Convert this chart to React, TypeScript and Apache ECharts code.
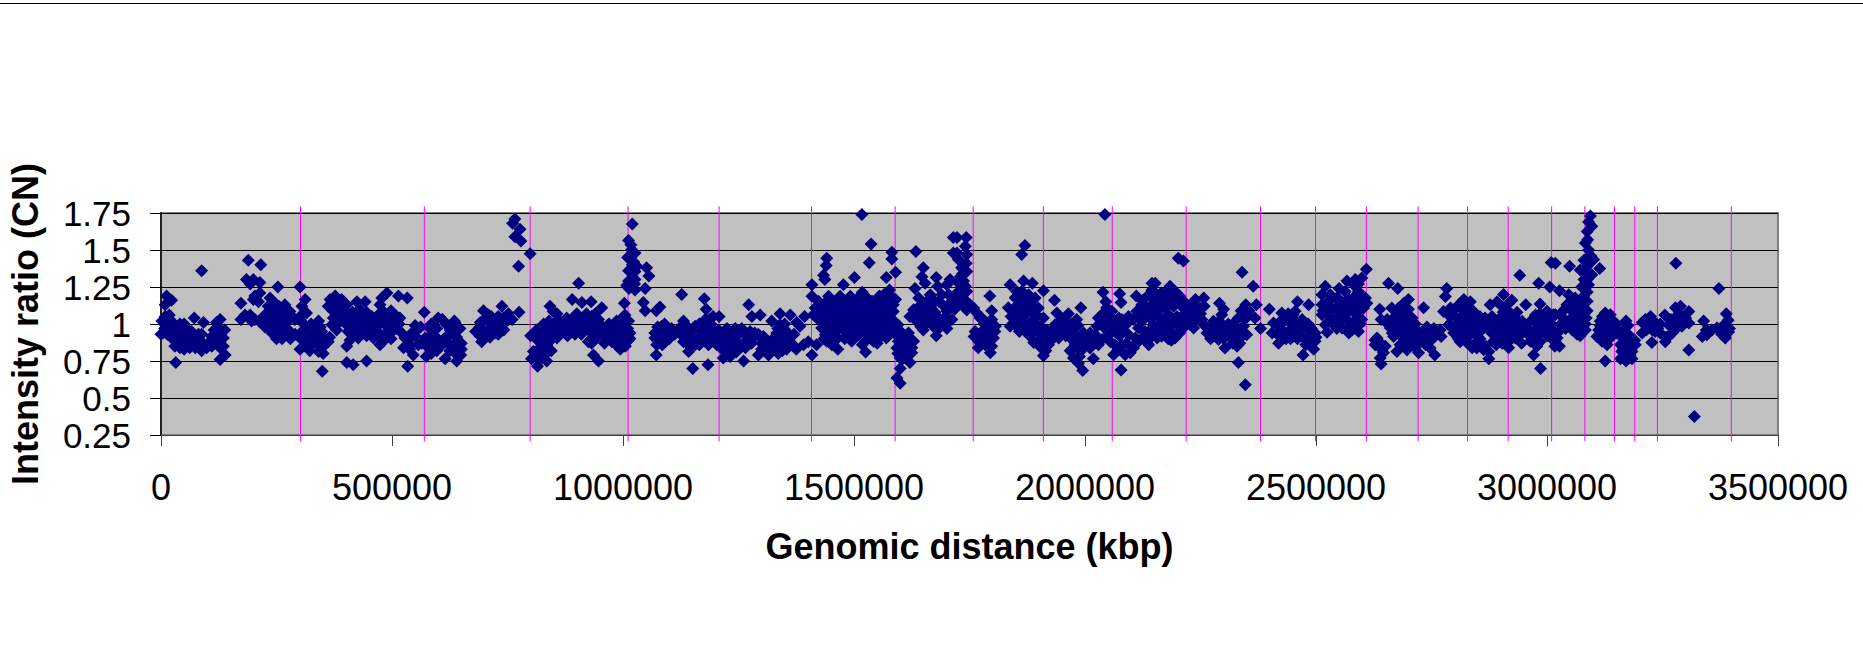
import React, { useEffect, useRef } from "react";
import * as echarts from "echarts";

const xTickStep = 500000;
const yTickStep = 0.25;
const xAxisTitle = "Genomic distance (kbp)";
const yAxisTitle = "Intensity ratio (CN)";

// Positions of the vertical markers, kbp in thousands
const boundaries = [302, 570, 799, 1011, 1208, 1408, 1589, 1758, 1910, 2059, 2219, 2380, 2499, 2609, 2721, 2828, 2916, 3010, 3082, 3146, 3190, 3239, 3399];

// Points as [genomic distance in thousands of kbp, intensity ratio]
const pointsA: number[][] = [
  [32,.74],[88,1.36],[189,1.43],[216,1.40],[253,1.25],[301,1.25],[349,.68],[12,1.19],[23,1.16],[9,1.13],[9,1.05],[2,1.02],[19,1.03],[0,.93],[5,.94],[16,.97],[30,.995],[41,1.0],[56,.97],[30,.93],[45,.94],[59,.92],[41,.84],[72,1.04],[92,1.01],[81,.93],[74,.84],[99,.84],[120,1.01],[138,.96],[135,.905],[9,.995],[23,.905],[41,.895],[66,.905],[70,.87],[88,.88],[106,.88],[117,.88],[120,.93],[128,.76],[139,.79],[135,.85],[128,1.03],[128,.84],[110,.915],[56,.94],[30,.85],[41,.95],
  [173,1.14],[173,1.03],[182,1.06],[196,1.02],[193,1.06],[203,1.03],[185,1.30],[193,1.27],[200,1.30],[214,1.28],[203,1.19],[214,1.21],[211,1.15],[200,1.165],[236,1.175],[247,1.14],[268,1.13],[279,1.085],[232,1.12],[236,1.07],[225,1.02],[232,.985],[247,1.03],[258,1.05],[265,1.02],[254,.96],[250,.90],[276,.96],[279,.94],[290,1.03],[312,1.165],[305,1.12],[315,1.075],[301,1.05],[308,1.005],[301,.83],[319,.905],[326,.86],[341,.815],[351,.80],[330,.97],[341,1.02],[348,.95],[362,.88],[355,.86],[380,.96],[370,.995],[373,1.04],[366,1.165],[362,1.12],[377,1.19],[391,1.165],[402,1.13],[370,1.095],[384,1.085],[409,1.06],[413,1.02],[402,.85],[409,.89],[402,.74],[416,.725],[305,.95],[315,.86],[301,.905],[333,.905],[348,.88],
];
const denseA: number[][] = [
  [8,.97],[24,.97],[36,.92],[50,.92],[25,1.0],[50,1.0],[18,1.06],[14,.93],[60,.86],[52,.86],[66,.95],[88,.93],[72,.90],[115,.96],[125,.97],[128,.93],[110,.85],[88,.82],[62,.84],[50,.83],
  [240,1.10],[255,1.12],[270,1.10],[225,1.06],[248,1.08],[262,1.09],[280,1.06],[212,1.02],[238,1.02],[255,1.02],[275,1.02],[225,.98],[245,.98],[265,.98],[240,.94],[258,.94],[270,.94],[290,.93],[262,.90],[280,.90],
  [312,.99],[325,1.0],[335,.94],[320,.94],[345,.98],[345,.92],[365,.91],[330,.88],[340,.86],[312,.88],[322,.82],[355,.90],[385,1.12],[395,1.10],[380,1.05],[395,1.05],[400,1.08],[385,1.01],[400,1.0],[415,1.08],[380,1.14],[415,.97],[405,.95],[415,.92],
];
const pointsB: number[][] = [
  [424,1.15],[442,1.15],[445,.75],[489,1.21],[478,1.175],[474,1.13],[514,1.19],[533,1.175],[498,1.09],[517,1.04],[456,1.05],[427,1.06],[438,1.02],[427,.905],[449,.97],[460,.905],[474,.86],[498,.90],[485,.93],[499,1.02],[489,1.06],[481,1.085],[471,.995],[460,.985],[510,.97],[521,.94],[528,.905],[525,.84],[539,.86],[546,.79],[534,.715],[553,.96],[543,.915],[570,1.08],[574,.78],[557,.86],[582,.97],[572,.905],[586,.93],[579,.84],[593,.86],[600,1.04],[609,1.03],[597,.905],[608,.86],[615,.765],[636,1.01],[647,.97],[626,.96],[618,.915],[633,.93],[640,.88],[626,.86],[640,.84],[649,.79],[640,.75],[633,.815],[424,1.03],[424,.96],[438,.94],
  [698,1.09],[709,1.06],[691,1.01],[681,.95],[694,.88],[705,.93],[698,.96],[716,.985],[727,1.02],[738,1.12],[730,1.05],[741,1.04],[752,1.07],[775,1.08],[730,.93],[720,.95],[748,1.02],[712,1.01],
  [766,1.71],[761,1.68],[777,1.64],[766,1.59],[779,1.56],[799,1.475],[774,1.39],[800,.92],[813,.96],[828,1.0],[842,1.12],[849,1.085],[849,.995],[806,.815],[802,.765],[815,.715],[835,.75],[824,.815],[835,.86],[828,.905],[813,.77],[831,.79],
];
const denseB: number[][] = [
  [430,1.1],[430,1.0],[445,1.08],[445,1.0],[460,1.02],[470,1.06],[430,.95],[445,.92],[480,1.02],[495,1.05],[505,1.0],[490,.98],[475,.93],[510,1.05],[462,.94],[480,.88],[500,.95],[515,1.0],
  [535,.89],[550,.92],[540,.93],[550,.99],[562,.98],[565,.87],[575,.87],[590,.89],[600,.88],[610,.89],[585,1.0],[597,.97],[620,.99],[630,.99],[640,.97],[625,.93],[615,.88],[650,.87],[640,.91],[650,.83],[625,.82],[597,.82],[585,.80],[538,.83],[635,1.02],
  [690,.98],[700,1.03],[700,.92],[712,.96],[725,.98],[735,1.0],[715,1.05],[712,.91],[740,1.0],[752,1.03],[760,1.03],[725,.94],[742,.96],[720,1.02],[690,.92],
  [815,.89],[825,.94],[840,.88],[840,.93],[820,.84],[845,.82],[812,.80],[825,.77],[845,.96],[840,1.02],[835,.97],
];
const pointsC: number[][] = [
  [904,1.275],[890,1.165],[911,1.145],[931,1.15],[857,1.07],[954,1.11],[921,1.07],[860,1.03],[878,1.04],[900,1.07],[896,.995],[867,.95],[857,.905],[882,.94],[896,.93],[914,1.02],[925,.96],[932,1.05],[947,1.03],[932,.87],[936,.79],[947,.75],[943,.905],[961,.905],[958,.97],[972,.94],[986,1.02],[983,.94],[997,.86],[994,.83],[1005,.915],[1015,.94],[1001,.995],[1004,1.06],[1003,1.14],[1008,.88],[976,.88],[968,.995],[878,.985],[940,.97],[990,.895],
  [1020,1.675],[1012,1.565],[1017,1.535],[1010,1.45],[1026,1.48],[1023,1.42],[1026,1.355],[1012,1.29],[1026,1.30],[1013,1.24],[1026,1.23],[1048,1.24],[1051,1.38],[1056,1.325],[1044,1.145],[1048,1.09],[1072,1.09],[1080,1.115],[1020,1.40],[1018,1.27],
  [1069,.94],[1073,.86],[1072,.79],[1084,.985],[1098,.94],[1091,.88],[1069,.905],[1131,1.02],[1127,1.20],[1176,1.17],[1180,1.10],[1187,1.03],[1208,1.05],[1151,.70],[1184,.725],[1142,.815],[1120,.95],[1138,.93],[1131,.88],[1149,.95],[1156,.985],[1163,.905],[1156,.86],[1178,.93],[1192,.97],[1185,.86],[1207,.96],[1221,.815],[1217,.77],[1232,.78],[1261,.75],[1214,.905],[1228,.93],[1243,.97],[1257,.97],[1272,.905],[1282,.905],[1254,.84],[1239,.84],[1272,1.13],[1279,1.05],[1084,.915],[1171,.95],[1142,.88],[1196,.905],[1203,.86],[1246,.88],[1264,.88],[1228,.85],
];
const denseC: number[][] = [
  [888,1.03],[905,1.03],[920,1.04],[940,1.07],[935,1.02],[950,1.0],[905,.98],[920,.98],[870,1.0],[855,.99],[885,.98],[860,.95],[880,.92],[910,.93],[935,.95],[950,.95],[980,.98],[995,.96],[1010,.97],[1012,1.02],[995,1.03],[970,1.0],[915,.96],[945,.92],[960,.94],[975,.91],[1000,.88],[985,.86],[1015,.90],[1005,.85],[932,.90],[925,.88],[960,.87],[975,.96],
  [1018,1.50],[1017,1.36],[1030,1.39],[1025,1.27],[1008,1.26],[1012,1.36],
  [1075,.98],[1090,1.0],[1085,.95],[1075,.89],[1085,.86],[1100,.90],[1112,.93],[1105,.97],[1125,.98],[1140,.98],[1128,.92],[1150,.90],[1145,.85],[1165,.97],[1178,.97],[1165,.86],[1185,.90],[1175,.89],[1200,.94],[1205,.88],[1215,.94],[1218,.87],[1225,.97],[1235,.90],[1250,.93],[1240,.95],[1265,.93],[1275,.95],[1285,.94],[1250,.85],[1265,.84],[1245,.81],[1235,.80],[1278,.87],[1215,.83],[1190,1.0],[1195,1.05],[1165,1.0],[1178,1.03],
];
const pointsD: number[][] = [
  [1297,1.06],[1340,1.07],[1362,1.06],[1322,1.02],[1393,1.05],[1376,1.01],[1293,.93],[1293,.79],[1315,.79],[1336,.80],[1354,.83],[1365,.87],[1391,.86],[1401,.88],[1419,.86],[1409,.79],[1409,1.265],[1409,1.187],[1340,.995],[1333,.94],[1347,.915],[1329,.88],[1315,.84],[1344,.86],[1358,.88],[1304,.915],[1329,.84],[1351,.96],[1383,.985],
  [1517,1.74],[1537,1.54],[1533,1.414],[1441,1.445],[1440,1.395],[1434,1.33],[1437,1.30],[1477,1.265],[1501,1.315],[1582,1.485],[1582,1.44],[1570,1.315],[1590,1.35],[1518,1.215],[1577,1.23],[1634,1.49],[1650,1.38],[1647,1.32],[1678,1.315],[1632,1.24],[1654,1.275],[1681,1.255],[1708,1.30],[1715,1.585],[1715,1.48],[1701,1.265],
  [1445,1.187],[1470,1.187],[1492,1.187],[1423,1.153],[1441,1.153],[1459,1.153],[1477,1.153],[1499,1.153],[1513,1.153],[1539,1.153],[1557,1.153],[1575,1.153],[1416,1.108],[1434,1.108],[1452,1.108],[1466,1.108],[1484,1.108],[1502,1.108],[1521,1.108],[1539,1.108],[1557,1.108],[1575,1.108],[1590,1.165],[1412,1.063],[1430,1.063],[1448,1.063],[1466,1.063],[1484,1.063],[1502,1.063],[1521,1.063],[1539,1.063],[1557,1.063],[1575,1.063],[1427,1.018],[1445,1.018],[1463,1.018],[1481,1.018],[1499,1.018],[1517,1.018],[1535,1.018],[1553,1.018],[1571,1.018],[1585,1.018],[1430,.973],[1448,.973],[1466,.973],[1492,.973],[1510,.973],[1528,.973],[1546,.973],[1564,.973],[1589,.973],[1438,.928],[1456,.928],[1492,.928],[1510,.928],[1535,.928],[1557,.928],[1441,.883],[1495,.883],[1524,.883],[1542,.883],[1465,.83],[1525,.81],
  [1604,.94],[1596,.883],[1618,.94],[1629,.883],[1593,.838],[1611,.85],[1625,.805],[1600,.70],[1621,.74],[1604,.76],[1593,.635],[1600,.60],[1607,.895],
  [1632,1.06],[1650,.96],[1678,.92],[1701,.97],[1640,1.175],[1654,1.13],[1665,1.198],[1683,1.153],[1690,1.198],[1705,1.198],[1712,1.153],[1665,1.063],[1683,1.04],[1701,1.086],[1712,1.03],[1654,1.03],[1672,.985],[1690,1.007],[1629,1.097],[1643,1.086],[1640,1.018],[1621,1.05],
];
const denseD: number[][] = [
  [1310,.87],[1325,.90],[1340,.93],[1335,.97],[1350,1.0],[1358,.92],[1370,.93],[1300,.87],[1320,.82],[1345,.82],[1375,.83],[1300,.83],
  [1425,1.13],[1445,1.13],[1465,1.13],[1488,1.13],[1508,1.13],[1528,1.13],[1548,1.13],[1566,1.13],[1585,1.13],
  [1425,1.085],[1443,1.085],[1460,1.085],[1475,1.085],[1493,1.085],[1512,1.085],[1530,1.085],[1548,1.085],[1566,1.085],[1585,1.085],
  [1420,1.04],[1438,1.04],[1455,1.04],[1473,1.04],[1490,1.04],[1510,1.04],[1528,1.04],[1547,1.04],[1565,1.04],[1580,1.04],
  [1438,.995],[1455,.995],[1472,.995],[1490,.995],[1508,.995],[1526,.995],[1544,.995],[1562,.995],[1578,.995],[1595,.995],
  [1440,.95],[1458,.95],[1480,.95],[1500,.95],[1520,.95],[1545,.95],[1565,.95],[1580,.95],
  [1450,.905],[1465,.905],[1500,.905],[1535,.905],[1555,.905],[1570,.905],[1452,.86],[1435,.90],[1480,.90],[1518,.86],[1550,.87],
  [1510,1.18],[1530,1.17],[1555,1.19],[1565,1.2],[1580,1.19],
  [1593,.92],[1610,.92],[1600,.85],[1615,.88],[1622,.90],[1608,.80],[1595,.80],[1612,.77],[1625,.84],[1600,.77],
  [1645,1.13],[1660,1.16],[1650,1.08],[1665,1.11],[1675,1.15],[1695,1.12],[1705,1.12],[1675,1.08],[1655,1.0],[1665,1.02],[1680,1.0],[1695,1.04],[1705,1.02],[1645,.98],[1680,.96],[1700,1.0],[1635,1.02],[1718,1.1],
];
const pointsE: number[][] = [
  [1723,1.585],[1743,1.585],[1741,1.525],[1723,1.48],[1744,1.47],[1726,1.435],[1743,1.41],[1733,1.38],[1744,1.355],[1730,1.32],[1737,1.29],[1726,1.277],[1741,1.255],[1726,1.22],[1744,1.22],[1733,1.176],[1730,1.145],[1744,1.15],[1751,1.13],[1744,1.095],[1759,1.108],[1766,1.075],[1773,1.04],[1794,1.19],[1798,1.09],[1780,1.03],[1798,1.03],[1806,.985],[1762,.95],[1760,.915],[1777,.95],[1791,.973],[1802,.905],[1780,.895],[1769,.84],[1795,.805],[1798,.85],[1784,.86],[1791,.917],[1766,.905],
  [1838,1.265],[1867,1.29],[1886,1.275],[1852,1.22],[1834,1.11],[1838,.985],[1870,1.53],[1863,1.47],[1910,1.225],[1934,1.16],[1849,1.176],[1863,1.22],[1878,1.198],[1892,1.176],[1845,1.063],[1860,1.13],[1874,1.13],[1889,1.086],[1856,1.04],[1871,1.063],[1885,1.018],[1852,.985],[1871,.95],[1899,1.108],[1910,1.04],[1889,.973],[1917,.96],[1903,.928],[1889,.875],[1910,.785],[1921,.86],[1932,.905],[1928,.95],[1939,1.075],[1964,1.07],[1991,1.11],[1982,1.03],[1950,1.03],[1935,.995],[1950,.973],[1964,.94],[1943,.905],[1979,.973],[1997,.94],[2011,.94],[2022,.928],[1975,.77],[1986,.735],[1995,.685],[1990,.815],[1979,.86],[1997,.86],[2018,.765],[2011,.838],[2004,.905],[2029,.86],[2037,.895],[1982,.905],[1968,.905],[1871,1.086],
  [2039,1.215],[2043,1.74],[2075,1.205],[2078,1.145],[2078,.69],[2111,1.19],[2145,1.275],[2047,1.11],[2029,1.04],[2040,1.018],[2026,.985],[2058,.995],[2073,1.04],[2094,1.05],[2051,.928],[2065,.95],[2080,.96],[2094,.928],[2109,.905],[2065,.86],[2080,.86],[2098,.805],[2062,.793],[2087,.793],[2105,.838],[2116,.883],[2123,1.13],[2138,1.198],[2145,1.13],[2127,1.063],[2141,1.04],[2123,1.018],[2148,.995],[2112,1.086],[2130,.95],[2145,.917],[2138,.86],[2116,.973],[2040,1.075],[2058,1.086],[2080,1.03],
];
const denseE: number[][] = [
  [1735,1.34],[1735,1.25],[1725,1.19],[1738,1.12],[1782,1.0],[1775,.91],[1790,.88],[1770,.88],[1790,.95],[1805,.95],[1785,1.0],[1795,.98],
  [1845,1.10],[1855,1.13],[1868,1.18],[1880,1.16],[1885,1.12],[1860,1.09],[1848,1.02],[1865,1.01],[1880,.98],[1858,.95],[1880,.92],[1870,1.2],[1850,1.18],[1840,1.05],[1895,1.0],[1905,.98],[1895,1.06],[1900,.95],[1915,.9],[1920,.9],[1900,.89],[1925,.92],[1905,.84],[1915,.82],[1945,.96],[1960,1.0],[1935,.95],[1970,.95],[1958,.92],[1970,1.0],[1985,.99],[1975,.9],[1990,.9],[2010,.89],[2020,.90],[2005,.86],[1990,.84],[2025,.90],[1968,.82],[1988,.78],
  [2035,1.05],[2050,1.05],[2040,.98],[2045,1.15],[2060,1.03],[2070,1.0],[2090,1.0],[2088,1.02],[2105,1.03],[2120,1.05],[2135,1.08],[2145,1.08],[2130,1.12],[2125,1.16],[2148,1.17],[2145,1.23],[2155,1.2],[2058,.95],[2075,.92],[2055,.88],[2072,.83],[2090,.87],[2108,.86],[2122,.90],[2130,.9],[2145,.97],[2155,.96],
];
const pointsF: number[][] = [
  [2202,1.445],[2213,1.425],[2152,1.275],[2184,1.255],[2195,1.22],[2174,1.21],[2166,1.165],[2188,1.176],[2206,1.153],[2156,1.13],[2174,1.108],[2192,1.12],[2213,1.108],[2159,1.05],[2181,1.063],[2199,1.05],[2217,1.075],[2163,.985],[2184,.995],[2202,.985],[2156,.905],[2174,.928],[2195,.905],[2188,.94],[2239,1.165],[2257,1.176],[2235,1.12],[2249,1.108],[2224,1.05],[2224,1.007],[2235,.973],[2253,1.03],[2257,.995],[2242,1.063],[2166,.917],
  [2291,1.14],[2296,1.063],[2278,1.018],[2264,.94],[2282,.928],[2278,.973],[2296,.995],[2307,.96],[2289,.895],[2303,.838],[2314,.917],[2329,.85],[2325,.973],[2332,1.04],[2343,.985],[2350,.928],[2336,.905],[2332,.74],[2347,.59],[2340,1.35],[2364,1.255],[2348,1.13],[2343,1.085],[2371,1.13],[2368,1.04],[2380,.97],[2399,1.10],[2460,1.15],[2484,1.13],
  [2405,.94],[2408,1.007],[2426,1.075],[2437,1.04],[2423,1.018],[2455,1.086],[2419,.87],[2441,1.018],[2455,1.018],[2470,.995],[2430,.95],[2451,.94],[2470,.917],[2484,.96],[2498,.94],[2495,.83],[2472,.79],[2524,.945],[2484,.895],[2498,.883],[2462,.973],[2415,.94],
  [2520,1.255],[2567,1.29],[2550,1.24],[2513,1.198],[2513,1.13],[2531,1.198],[2545,1.176],[2563,1.22],[2581,1.266],[2524,1.13],[2542,1.108],[2560,1.13],[2578,1.153],[2513,1.063],[2527,1.063],[2545,1.04],[2563,1.063],[2581,1.086],[2520,.995],[2538,.995],[2556,.973],[2571,.94],[2581,1.007],[2578,.96],
];
const denseF: number[][] = [
  [2165,1.21],[2160,1.09],[2175,1.15],[2190,1.2],[2205,1.19],[2165,1.03],[2175,1.0],[2195,1.02],[2210,1.03],[2165,.95],[2180,.96],[2205,.94],[2215,.98],[2222,1.09],[2180,.9],[2187,.89],[2237,1.02],[2250,1.07],[2240,1.09],[2225,1.12],[2215,1.15],[2258,1.12],
  [2270,.97],[2285,1.0],[2295,.95],[2290,1.02],[2310,1.0],[2320,1.0],[2328,.94],[2340,.94],[2315,.95],[2300,.90],[2320,.87],[2272,.90],[2335,.87],[2345,1.03],[2338,1.09],[2355,1.09],[2352,1.05],[2300,1.1],
  [2420,.99],[2425,1.0],[2450,1.06],[2447,.97],[2455,.97],[2440,1.07],[2470,1.03],[2483,1.0],[2445,.90],[2460,.90],[2420,.92],[2435,.90],[2490,.97],[2478,.86],[2500,.91],
  [2530,1.16],[2515,1.09],[2530,1.09],[2552,1.08],[2552,1.16],[2570,1.17],[2570,1.1],[2588,1.13],[2588,1.2],[2530,1.02],[2552,1.02],[2570,1.02],[2590,1.05],[2545,.97],[2568,.97],[2590,.99],
];
const pointsG: number[][] = [
  [2609,1.37],[2599,1.31],[2585,1.30],[2592,1.22],[2607,1.176],[2589,1.153],[2603,1.108],[2589,1.063],[2599,1.03],[2592,.95],[2638,1.10],[2657,1.275],[2677,1.24],[2700,1.165],[2690,1.14],[2733,1.11],[2783,1.24],[2780,1.185],[2641,1.03],[2632,.905],[2628,.86],[2639,.838],[2646,.805],[2639,.77],[2641,.73],
  [2664,1.108],[2679,1.108],[2693,1.086],[2708,1.04],[2654,1.03],[2668,1.04],[2686,1.03],[2704,.995],[2661,.973],[2675,.96],[2693,.96],[2668,.915],[2690,.917],[2708,.94],[2722,.95],[2751,.95],[2737,.94],[2675,.815],[2697,.825],[2722,.805],[2757,.79],[2737,.86],[2747,.838],[2729,.883],[2708,.883],[2682,.86],[2751,.895],[2771,.915],[2776,1.085],[2769,.96],
  [2791,1.108],[2809,1.13],[2820,1.165],[2834,1.15],[2841,1.085],[2801,1.05],[2820,1.086],[2834,1.04],[2787,.995],[2805,.995],[2823,1.018],[2841,.995],[2798,.94],[2816,.94],[2834,.928],[2812,.88],[2838,.84],[2852,.883],[2863,.826],[2874,.765],[2848,.838],[2874,.815],
  [2906,1.20],[2892,1.15],[2877,1.13],[2924,1.16],[2941,1.33],[2954,1.13],[2982,1.275],[3006,1.25],[3009,1.415],[2985,1.135],[2975,1.06],[2986,.70],[2971,.79],[2978,.85],[2866,1.04],[2881,1.05],[2863,.973],[2881,.985],[2899,1.04],[2917,1.086],[2931,1.04],[2917,1.018],[2939,.985],[2895,.96],[2913,.94],[2931,.905],[2884,.883],[2903,.87],[2917,.84],[2946,1.018],[2957,.94],[2975,.96],[2964,.883],[2993,1.03],[3000,1.086],[3014,1.063],[2989,.973],[3004,.94],[3011,.995],[3000,.92],[3017,.85],[2852,.94],[2856,1.018],[2917,1.14],[2906,1.108],
];
const denseG: number[][] = [
  [2592,1.27],[2598,1.18],[2595,1.1],[2610,1.14],[2596,1.0],[2588,.98],[2640,.87],[2650,.85],[2628,.89],
  [2675,1.06],[2690,1.07],[2700,1.1],[2655,1.0],[2672,1.0],[2685,.99],[2700,1.03],[2715,1.0],[2680,.93],[2695,.93],[2705,.9],[2720,.9],[2740,.91],[2722,.87],[2760,.93],[2740,.98],[2755,.97],[2695,.87],[2712,.85],[2665,.94],
  [2800,1.1],[2815,1.12],[2830,1.11],[2815,1.05],[2830,1.07],[2845,1.05],[2790,1.05],[2795,.98],[2815,1.0],[2830,.98],[2850,.97],[2805,.94],[2825,.93],[2845,.94],[2855,.9],[2825,.88],[2860,.86],[2845,.87],[2868,.85],[2855,1.05],[2808,.9],
  [2870,1.0],[2890,1.02],[2905,1.08],[2915,1.06],[2935,1.08],[2930,1.0],[2905,1.0],[2880,.94],[2895,.92],[2915,.98],[2925,.96],[2945,.97],[2940,.92],[2905,.93],[2920,.89],[2890,.86],[2945,.87],[2955,.98],[2962,.92],[2975,.92],[2985,.94],[2995,.98],[2980,1.0],[2985,1.07],[2965,1.02],[3005,1.04],[3010,.9],[2985,.88],
];
const pointsH: number[][] = [
  [3018,1.41],[3049,1.39],[3027,1.225],[3114,1.375],[3094,1.73],[3090,1.69],[3097,1.66],[3087,1.625],[3088,1.57],[3083,1.547],[3090,1.50],[3087,1.445],[3101,1.435],[3072,1.365],[3087,1.39],[3097,1.333],[3087,1.30],[3083,1.344],[3090,1.266],[3087,1.216],[3047,1.198],[3061,1.176],[3079,1.187],[3043,1.13],[3065,1.14],[3087,1.153],[3054,1.086],[3087,1.09],[3018,1.063],[3032,1.05],[3069,1.063],[3029,.96],[3018,.94],[3040,1.018],[3050,.995],[3061,1.018],[3072,.973],[3083,.96],[3072,.92],[3027,.85],[3022,.905],[3054,1.04],[3076,1.018],
  [3126,1.075],[3115,1.018],[3137,1.063],[3144,1.018],[3112,.96],[3130,.973],[3148,.973],[3108,.915],[3130,.86],[3126,.917],[3144,.928],[3119,.883],[3126,.75],[3171,1.02],[3166,.96],[3180,.917],[3159,.86],[3173,.87],[3191,.86],[3159,.765],[3171,.75],[3184,.765],[3173,.805],[3162,.815],[3184,.815],[3170,.917],
  [3206,1.01],[3224,1.05],[3220,.977],[3206,.94],[3227,.875],[3238,.995],[3255,1.06],[3256,.88],[3245,.94],[3263,.995],[3271,.94],[3278,1.11],[3289,1.12],[3307,1.085],[3279,1.41],[3296,1.03],[3307,1.007],[3292,.985],[3339,1.02],[3278,1.04],[3307,.825],[3319,.375],[3372,1.24],[3388,1.07],[3392,1.025],[3350,.95],[3336,.915],[3346,.928],[3368,.973],[3379,.95],[3390,.94],[3386,.905],[3393,.946],[3357,.96],[3213,1.03],[3234,.95],
];
const denseH: number[][] = [
  [3030,1.0],[3040,.97],[3035,1.09],[3050,1.13],[3075,1.13],[3060,1.1],[3075,1.09],[3065,1.04],[3055,.96],[3065,.93],[3075,1.25],[3085,1.25],[3060,1.0],[3083,1.0],[3085,1.04],[3080,1.3],[3092,1.41],[3080,1.43],[3095,1.46],
  [3120,1.05],[3128,1.03],[3140,1.0],[3120,.99],[3120,.93],[3135,.93],[3150,1.0],[3150,.94],[3135,.9],[3125,.89],[3115,.99],
  [3175,.99],[3185,.88],[3165,.9],[3178,.84],[3190,.89],[3165,.83],[3180,.79],[3168,.78],
  [3215,1.0],[3230,1.02],[3228,.96],[3240,.97],[3215,.96],[3265,.92],[3270,1.0],[3280,1.02],[3285,1.07],[3300,1.04],[3280,.97],[3268,1.03],[3245,1.0],[3258,.91],[3345,.96],[3378,.93],[3385,1.0],[3395,.97],
];

const allPoints = [pointsA, denseA, pointsB, denseB, pointsC, denseC, pointsD, denseD, pointsE, denseE, pointsF, denseF, pointsG, denseG, pointsH, denseH]
  .flat()
  .map(([x, y]) => [x * 1000, y]);

const lineBottom = 0.207;
const lineTop = 1.795;
const boundaryLines = boundaries.flatMap((x) => [
  [x * 1000, lineBottom],
  [x * 1000, lineTop],
  [x * 1000, null],
]);

export default function App() {
  const ref = useRef<HTMLDivElement>(null);
  useEffect(() => {
    document.body.style.margin = "0";
    const chart = echarts.init(ref.current!, undefined, { renderer: "svg" });
    const font = "'Liberation Sans', Arial, sans-serif";
    chart.setOption({
      animation: false,
      backgroundColor: "#FFFFFF",
      grid: {
        left: 161,
        right: 85,
        top: 213,
        bottom: 229,
        show: true,
        outerBoundsMode: "none",
        backgroundColor: "#C0C0C0",
        borderColor: "#808080",
        borderWidth: 2,
      },
      xAxis: {
        type: "value",
        min: 0,
        max: 3500000,
        interval: xTickStep,
        name: xAxisTitle,
        nameLocation: "middle",
        nameGap: 93,
        nameTextStyle: { fontFamily: font, fontSize: 36, fontWeight: "bold", color: "#000" },
        splitLine: { show: false },
        axisLine: { onZero: false, lineStyle: { color: "#404040", width: 1 } },
        axisTick: { length: 11, lineStyle: { color: "#404040", width: 1 } },
        axisLabel: { formatter: (v: number) => String(v), margin: 34, fontFamily: font, fontSize: 36, color: "#000" },
      },
      yAxis: {
        type: "value",
        min: 0.25,
        max: 1.75,
        interval: yTickStep,
        name: yAxisTitle,
        nameLocation: "middle",
        nameGap: 118,
        nameTextStyle: { fontFamily: font, fontSize: 36, fontWeight: "bold", color: "#000" },
        splitLine: { lineStyle: { color: "#000", width: 1 } },
        axisLine: { onZero: false, lineStyle: { color: "#000", width: 1.5 } },
        axisTick: { length: 11, lineStyle: { color: "#000", width: 1 } },
        axisLabel: { formatter: (v: number) => String(v), margin: 30, fontFamily: font, fontSize: 35, color: "#000" },
      },
      graphic: [
        { type: "line", shape: { x1: 0, y1: 3.5, x2: 1863, y2: 3.5 }, style: { stroke: "#000", lineWidth: 1 } },
      ],
      series: [
        {
          type: "line",
          data: boundaryLines,
          clip: false,
          showSymbol: false,
          symbol: "none",
          connectNulls: false,
          lineStyle: { color: "#FF00FF", width: 1 },
          z: 2,
        },
        {
          type: "scatter",
          data: allPoints,
          symbol: "diamond",
          symbolSize: 13,
          clip: false,
          itemStyle: { color: "#000080", opacity: 1 },
          z: 3,
        },
      ],
    });
    return () => chart.dispose();
  }, []);
  return <div ref={ref} style={{ width: 1863, height: 664 }} />;
}
